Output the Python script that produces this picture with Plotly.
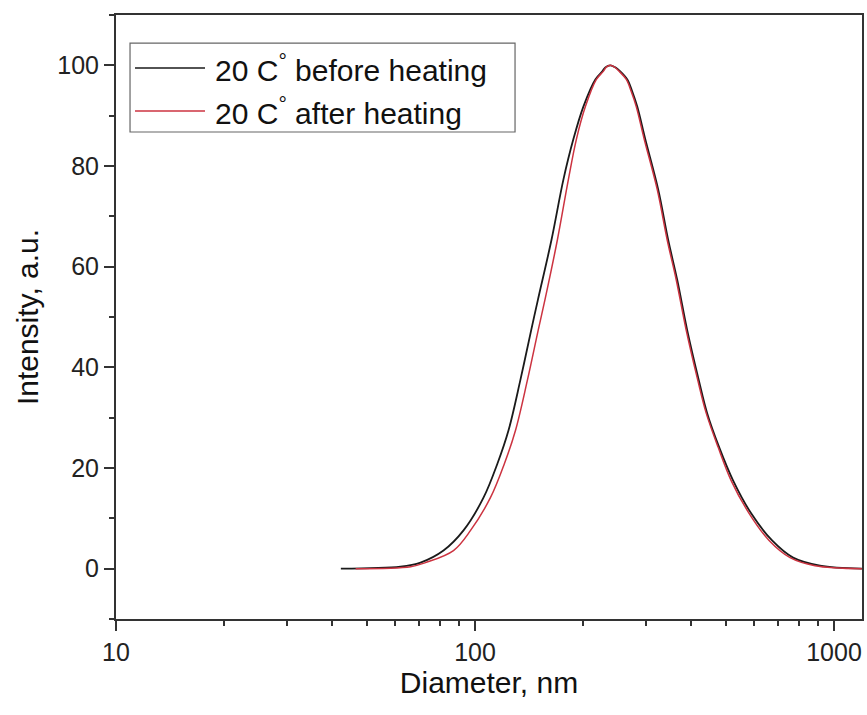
import plotly.graph_objects as go

# Black curve: 20 C before heating (diameter nm, intensity a.u.)
d_before = [42.3, 62.0, 70.5, 81.7, 92.9, 105.6, 115.5, 124.0, 133.8, 143.4,
            149.7, 163.3, 176.3, 187.9, 200.4, 216.4, 226.3, 230.7, 238.2, 245.9,
            253.9, 265.6, 274.2, 283.1, 298.1, 323.9, 345.3, 365.8, 390.0, 420.0,
            443.3, 478.9, 523.7, 587.7, 672.3, 769.1, 914.4, 1196]
i_before = [0, 0.4, 1.2, 3.6, 7.6, 14.1, 20.9, 27.5, 37.5, 47.4,
            53.4, 65.3, 77.3, 85.3, 91.8, 97.2, 98.8, 99.6, 100, 99.6,
            98.8, 97.2, 94.8, 91.8, 85.3, 75.3, 65.3, 57.4, 47.4, 37.5,
            30.9, 24.1, 17.5, 11.0, 5.6, 2.2, 0.6, 0]

# Red curve: 20 C after heating
d_after = [46.5, 66.2, 72.8, 87.1, 97.2, 110.4, 120.8, 129.7, 140.0, 150.0,
           156.6, 169.6, 182.0, 191.6, 203.0, 217.8, 227.7, 231.8, 238.2, 245.2,
           252.3, 263.9, 272.4, 281.3, 296.1, 321.9, 343.1, 363.5, 387.5, 417.2,
           440.6, 475.8, 517.1, 580.0, 659.5, 754.4, 885.3, 1196]
i_after = [0, 0.4, 1.2, 3.6, 7.6, 14.1, 20.9, 27.5, 37.5, 47.4,
           53.4, 65.3, 77.3, 85.3, 91.8, 97.2, 98.8, 99.6, 100, 99.6,
           98.8, 97.2, 94.8, 91.8, 85.3, 75.3, 65.3, 57.4, 47.4, 37.5,
           30.9, 24.1, 17.5, 11.0, 5.6, 2.2, 0.6, 0]

series_names = ["20 C<sup>°</sup> before heating", "20 C<sup>°</sup> after heating"]
series_colors = ["#1a1a1a", "#cc3340"]

x_major = [10, 100, 1000]
x_minor = [20, 30, 40, 50, 60, 70, 80, 90, 200, 300, 400, 500, 600, 700, 800, 900]
y_major = [0, 20, 40, 60, 80, 100]
y_minor = [-10, 10, 30, 50, 70, 90, 110]

FONT = "Liberation Sans, Arial, sans-serif"
AX = "#333333"

fig = go.Figure()
fig.add_trace(go.Scatter(x=d_before, y=i_before, mode="lines", name=series_names[0],
                         line=dict(color=series_colors[0], width=1.8, shape="spline", smoothing=1.0),
                         showlegend=False))
fig.add_trace(go.Scatter(x=d_after, y=i_after, mode="lines", name=series_names[1],
                         line=dict(color=series_colors[1], width=1.5, shape="spline", smoothing=1.0),
                         showlegend=False))

# manual legend (box, sample lines, labels)
fig.add_shape(type="rect", xref="paper", yref="paper", x0=0.0188, x1=0.5349, y0=0.8063, y1=0.9536,
              line=dict(color="#666666", width=1.2), fillcolor="white", layer="below")
rows_y = [0.9123, 0.8411]
for name, col, yy in zip(series_names, series_colors, rows_y):
    fig.add_shape(type="line", xref="paper", yref="paper", x0=0.0255, x1=0.1193, y0=yy, y1=yy,
                  line=dict(color=col, width=1.6))
    fig.add_annotation(xref="paper", yref="paper", x=0.1300, y=yy, xanchor="left", yanchor="middle",
                       text=name, showarrow=False, font=dict(family=FONT, size=30, color="#111111"))

fig.update_xaxes(type="log", range=[1, 3.078], automargin=False,
                 tickmode="array", tickvals=x_major, ticktext=[str(v) for v in x_major],
                 ticks="outside", ticklen=10, tickwidth=2, tickcolor=AX,
                 minor=dict(tickmode="array", tickvals=x_minor, ticks="outside", ticklen=5,
                            tickwidth=1.5, tickcolor=AX, showgrid=False),
                 showline=True, linecolor=AX, linewidth=2, mirror=True,
                 showgrid=False, zeroline=False,
                 tickfont=dict(family=FONT, size=25, color="#222222"),
                 title=dict(text="Diameter, nm", font=dict(family=FONT, size=30, color="#111111"), standoff=4))
fig.update_yaxes(range=[-10, 110], automargin=False,
                 tickmode="array", tickvals=y_major, ticktext=[str(v) for v in y_major],
                 ticks="outside", ticklen=10, tickwidth=2, tickcolor=AX,
                 minor=dict(tickmode="array", tickvals=y_minor, ticks="outside", ticklen=5,
                            tickwidth=1.5, tickcolor=AX, showgrid=False),
                 showline=True, linecolor=AX, linewidth=2, mirror=True,
                 showgrid=False, zeroline=False,
                 tickfont=dict(family=FONT, size=25, color="#222222"),
                 title=dict(text="Intensity, a.u.", font=dict(family=FONT, size=30, color="#111111"), standoff=10))

fig.update_layout(width=867, height=715, margin=dict(l=116, r=5, t=15, b=96),
                  plot_bgcolor="white", paper_bgcolor="white",
                  font=dict(family=FONT))

fig.write_html("out.html", config={"displayModeBar": False},
               post_script="document.body.style.margin='0px';document.body.style.overflow='hidden';")
